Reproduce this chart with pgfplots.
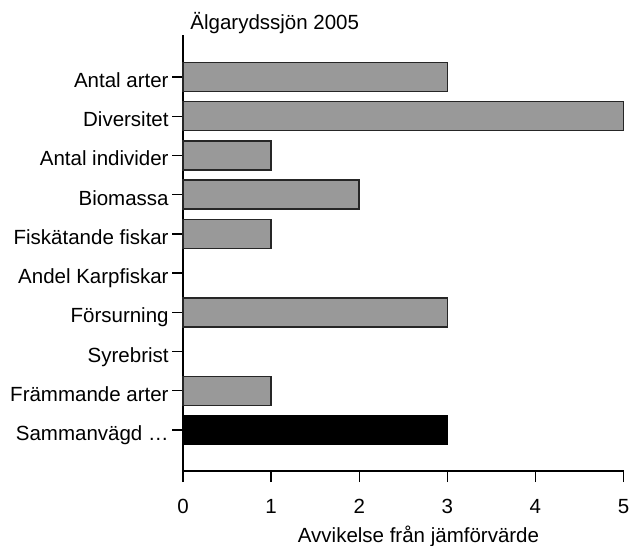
\documentclass[border=0pt]{standalone}
\usepackage{pgfplots}
\pgfplotsset{compat=1.18}
\usepackage{fontspec}
\setmainfont{Liberation Sans}
\definecolor{bargrey}{RGB}{153,153,153}
\begin{document}
\begin{tikzpicture}[font=\fontsize{10.25}{12.3}\selectfont]
\begin{axis}[
  name=ax,
  scale only axis,
  width=220.25pt, height=218pt,
  xmin=0, xmax=5,
  ymin=-0.046, ymax=11.071,
  axis lines*=left,
  axis line style={line width=0.7pt, -},
  tick style={line width=0.7pt, black},
  tick align=outside,
  major tick length=5.5pt,
  xtick={0,1,2,3,4,5},
  ytick={1,2,3,4,5,6,7,8,9,10},
  yticklabels={Sammanvägd …,Främmande arter,Syrebrist,Försurning,Andel Karpfiskar,Fiskätande fiskar,Biomassa,Antal individer,Diversitet,Antal arter},
  /pgf/number format/assume math mode=true,
  yticklabel style={anchor=base east, inner sep=0pt, xshift=-1.5pt, yshift=-5.25pt},
  xticklabel style={anchor=base, inner sep=0pt, yshift=-15.5pt},
  xlabel={Avvikelse från jämförvärde},
  xlabel style={at={(axis description cs:0.5346,0)}, anchor=base, inner sep=0pt, yshift=-35.5pt},
  title={Älgarydssjön 2005},
  title style={at={(axis description cs:0,1)}, anchor=base west, inner sep=0pt, xshift=3.5pt, yshift=-3.5pt},
  xbar, bar width=14.5pt, bar shift=0pt,
  clip=false,
]
\addplot[fill=bargrey, draw=black!85, line width=0.75pt] coordinates {
  (3,10) (5,9) (1,8) (2,7) (1,6) (3,4) (1,2)
};
\addplot[fill=black, draw=black, line width=0.75pt] coordinates {
  (3,1)
};
\end{axis}
\pgfresetboundingbox
\path ([xshift=-91.5pt,yshift=-37pt]ax.south west) rectangle ([xshift=7.25pt,yshift=17.5pt]ax.north east);
\end{tikzpicture}
\end{document}
